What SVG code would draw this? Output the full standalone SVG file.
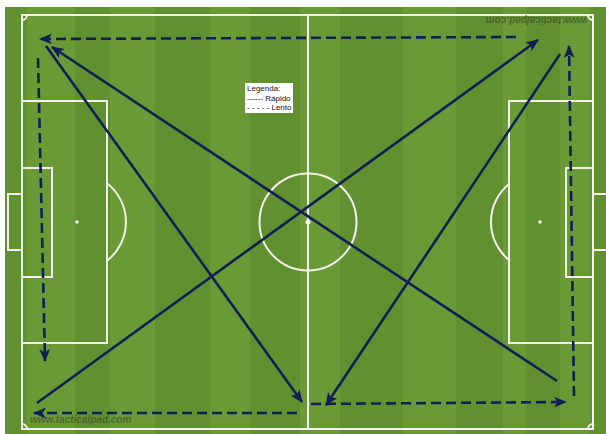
<svg xmlns="http://www.w3.org/2000/svg" width="606" height="434" viewBox="0 0 606 434">
<style>
.ln{fill:none;stroke:#f2f2ea;stroke-width:2}
.arr{fill:none;stroke:#111f55;stroke-width:2.6;marker-end:url(#ah)}
.dash{stroke-dasharray:10 5}
.wm{font-family:"Liberation Sans",Arial,sans-serif;font-size:10px;font-style:italic;font-weight:bold;fill:#3d4f2c;fill-opacity:0.7}
.lg{font-family:"Liberation Sans",Arial,sans-serif;font-size:8px;fill:#111}
</style>
<defs>
<marker id="ah" viewBox="0 0 12 10" refX="11" refY="5" markerWidth="13" markerHeight="11" markerUnits="userSpaceOnUse" orient="auto">
<path d="M0,0 L12,5 L0,10 L3,5 z" fill="#111f55"/>
</marker>
</defs>
<rect width="606" height="434" fill="#ffffff"/>
<g id="pitch">
<rect x="5" y="7" width="601" height="427" fill="#60902f"/>
<g fill="#6a9a36">
<rect x="27" y="7" width="48" height="427"/>
<rect x="110" y="7" width="45" height="427"/>
<rect x="210" y="7" width="40" height="427"/>
<rect x="300" y="7" width="40" height="427"/>
<rect x="403" y="7" width="53" height="427"/>
<rect x="503" y="7" width="23" height="427"/>
<rect x="560" y="7" width="30" height="427"/>
</g>
<rect class="ln" x="22" y="15" width="571" height="414"/>
<line class="ln" x1="308" y1="15" x2="308" y2="429"/>
<circle class="ln" cx="308" cy="222" r="48.5"/>
<circle cx="308" cy="222" r="2.5" fill="#f2f2ea"/>
<rect class="ln" x="22" y="101" width="85" height="242"/>
<rect class="ln" x="22" y="168" width="30" height="109"/>
<rect class="ln" x="8" y="194" width="14" height="56"/>
<circle cx="77" cy="222" r="1.8" fill="#f2f2ea"/>
<path class="ln" d="M107,183.3 A49,49 0 0 1 107,260.7"/>
<rect class="ln" x="509" y="101" width="84" height="242"/>
<rect class="ln" x="566" y="168" width="27" height="109"/>
<rect class="ln" x="593" y="194" width="14" height="56"/>
<circle cx="540" cy="222" r="1.8" fill="#f2f2ea"/>
<path class="ln" d="M509,184 A49,49 0 0 0 509,260"/>
<path class="ln" d="M22,20 A5,5 0 0 0 27,15"/>
<path class="ln" d="M588,15 A5,5 0 0 0 593,20"/>
<path class="ln" d="M22,424 A5,5 0 0 1 27,429"/>
<path class="ln" d="M588,429 A5,5 0 0 1 593,424"/>
<text class="wm" x="30" y="423">www.tacticalpad.com</text>
<text class="wm" x="0" y="0" transform="translate(587,17) rotate(180)">www.tacticalpad.com</text>
</g>
<g id="connectors">
<line class="arr" x1="37" y1="403" x2="538" y2="40"/>
<line class="arr" x1="557" y1="381" x2="52" y2="47"/>
<line class="arr" x1="46" y1="46" x2="302" y2="402"/>
<line class="arr" x1="560" y1="54" x2="326" y2="405"/>
<line class="arr dash" x1="516" y1="37" x2="40" y2="39"/>
<line class="arr dash" x1="38" y1="58" x2="45" y2="361"/>
<line class="arr dash" x1="297" y1="413" x2="34" y2="413"/>
<line class="arr dash" x1="311" y1="404" x2="566" y2="402"/>
<line class="arr dash" x1="574" y1="396" x2="569" y2="46"/>
</g>
<g id="legend">
<rect x="245" y="83" width="48" height="30" fill="#ffffff"/>
<text class="lg" x="247" y="91">Legenda:</text>
<text class="lg" x="247" y="101">------ Rápido</text>
<text class="lg" x="247" y="110">- - - - - Lento</text>
</g>
</svg>
